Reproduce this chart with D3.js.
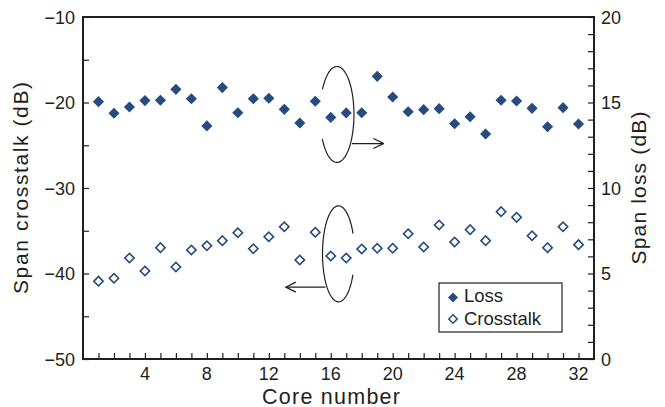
<!DOCTYPE html>
<html>
<head>
<meta charset="utf-8">
<script src="https://cdn.jsdelivr.net/npm/d3@7"></script>
<style>
  body { margin: 0; background: #fff; }
  svg text { font-family: "Liberation Sans", Arial, sans-serif; fill: #231f20; }
</style>
</head>
<body>
<svg id="chart"></svg>
<script>
// core numbers 1..32
const cores = [1, 2, 3, 4, 5, 6, 7, 8, 9, 10, 11, 12, 13, 14, 15, 16,
  17, 18, 19, 20, 21, 22, 23, 24, 25, 26, 27, 28, 29, 30, 31, 32]
// span loss (dB), right axis
const loss = [15.05, 14.37, 14.74, 15.11, 15.13, 15.77, 15.22, 13.63, 15.87, 14.40, 15.22, 15.25,
  14.60, 13.80, 15.07, 14.13, 14.39, 14.40, 16.53, 15.32, 14.46, 14.58, 14.64, 13.76,
  14.17, 13.16, 15.13, 15.09, 14.66, 13.58, 14.70, 13.74]
// span crosstalk (dB), left axis
const crosstalk = [-40.9, -40.56, -38.19, -39.71, -36.98, -39.24, -37.25, -36.75, -36.16, -35.23, -37.1, -35.7,
  -34.53, -38.42, -35.18, -37.95, -38.19, -37.13, -37.05, -37.05, -35.35, -36.9, -34.33, -36.32,
  -34.87, -36.16, -32.77, -33.43, -35.58, -36.98, -34.53, -36.63]
const xTickLabels = [4, 8, 12, 16, 20, 24, 28, 32]
const leftTickLabels = [-50, -40, -30, -20, -10]
const rightTickLabels = [0, 5, 10, 15, 20]

const width = 665
const height = 407
const margin = { top: 17, right: 71, bottom: 48, left: 83 }
const blue = '#274b7e'
const ink = '#231f20'

const svg = d3.select('#chart')
  .attr('width', width)
  .attr('height', height)

const x = d3.scaleLinear().domain([0, 33]).range([margin.left, width - margin.right])
const yL = d3.scaleLinear().domain([-50, -10]).range([height - margin.bottom, margin.top])
const yR = d3.scaleLinear().domain([0, 20]).range([height - margin.bottom, margin.top])

// frame
svg.append('rect')
  .attr('x', x(0)).attr('y', yL(-10))
  .attr('width', x(33) - x(0)).attr('height', yL(-50) - yL(-10))
  .attr('fill', 'none').attr('stroke', ink).attr('stroke-width', 2)

// bottom axis, inward ticks every core
const xAxis = svg.append('g')
  .attr('transform', `translate(0,${yL(-50)})`)
  .call(d3.axisBottom(x).tickValues(cores).tickSize(-6).tickFormat(''))
xAxis.select('.domain').remove()
xAxis.selectAll('line').attr('stroke', ink).attr('stroke-width', 1.2)
svg.append('g').selectAll('text')
  .data(xTickLabels).enter().append('text')
  .attr('x', d => x(d)).attr('y', yL(-50) + 21)
  .attr('text-anchor', 'middle').attr('font-size', 18)
  .text(d => d)

// left axis
const lAxis = svg.append('g')
  .attr('transform', `translate(${x(0)},0)`)
  .call(d3.axisLeft(yL).tickValues(d3.range(-50, -9, 5)).tickSize(-6).tickFormat(''))
lAxis.select('.domain').remove()
lAxis.selectAll('line').attr('stroke', ink).attr('stroke-width', 1.2)
svg.append('g').selectAll('text')
  .data(leftTickLabels).enter().append('text')
  .attr('x', x(0) - 8).attr('y', d => yL(d) + 6.5)
  .attr('text-anchor', 'end').attr('font-size', 18)
  .text(d => d < 0 ? '\u2212' + Math.abs(d) : d)

// right axis
const rAxis = svg.append('g')
  .attr('transform', `translate(${x(33)},0)`)
  .call(d3.axisRight(yR).tickValues(d3.range(0, 21, 1)).tickSize(-6).tickFormat(''))
rAxis.select('.domain').remove()
rAxis.selectAll('line').attr('stroke', ink).attr('stroke-width', 1.2)
svg.append('g').selectAll('text')
  .data(rightTickLabels).enter().append('text')
  .attr('x', x(33) + 7).attr('y', d => yR(d) + 6.5)
  .attr('text-anchor', 'start').attr('font-size', 18)
  .text(d => d)

// axis titles
const midY = (yL(-10) + yL(-50)) / 2
svg.append('text')
  .attr('transform', `translate(28,${midY}) rotate(-90)`)
  .attr('text-anchor', 'middle').attr('font-size', 21)
  .attr('textLength', 212).attr('lengthAdjust', 'spacing')
  .text('Span crosstalk (dB)')
svg.append('text')
  .attr('transform', `translate(646,${midY}) rotate(-90)`)
  .attr('text-anchor', 'middle').attr('font-size', 21)
  .attr('textLength', 153).attr('lengthAdjust', 'spacing')
  .text('Span loss (dB)')
svg.append('text')
  .attr('x', 331).attr('y', 403.5)
  .attr('text-anchor', 'middle').attr('font-size', 21.5)
  .attr('textLength', 138).attr('lengthAdjust', 'spacing')
  .text('Core number')

// markers
const diamond = d3.symbol().type(d3.symbolSquare)
svg.append('g').selectAll('path')
  .data(cores).enter().append('path')
  .attr('d', diamond.size(62)())
  .attr('transform', (d, i) => `translate(${x(d)},${yR(loss[i])}) rotate(45)`)
  .attr('fill', blue)
svg.append('g').selectAll('path')
  .data(cores).enter().append('path')
  .attr('d', diamond.size(44)())
  .attr('transform', (d, i) => `translate(${x(d)},${yL(crosstalk[i])}) rotate(45)`)
  .attr('fill', '#fff').attr('stroke', blue).attr('stroke-width', 1.6)

// annotations: open ellipses with arrows pointing to their axis
svg.append('defs').append('marker')
  .attr('id', 'arr').attr('viewBox', '0 0 12 12')
  .attr('refX', 11).attr('refY', 6)
  .attr('markerWidth', 12).attr('markerHeight', 12)
  .attr('markerUnits', 'userSpaceOnUse').attr('orient', 'auto')
  .append('path').attr('d', 'M1,1 L11,6 L1,11')
  .attr('fill', 'none').attr('stroke', ink).attr('stroke-width', 1.3)

function openEllipse (cx, cy, rx, ry, a0, a1) {
  const pts = d3.range(a0, a1 + 0.001, 0.05).map(a => [cx + rx * Math.cos(a), cy + ry * Math.sin(a)])
  return d3.line()(pts)
}
// upper: loss -> right axis (gap on left side)
const ucx = x(16.4), ucy = yR(14.3)
svg.append('path')
  .attr('d', openEllipse(ucx, ucy, 17, 48, -Math.PI + 0.55, Math.PI - 0.5))
  .attr('fill', 'none').attr('stroke', ink).attr('stroke-width', 1.2)
svg.append('line')
  .attr('x1', ucx + 15).attr('x2', x(19.4)).attr('y1', yR(12.6)).attr('y2', yR(12.6))
  .attr('stroke', ink).attr('stroke-width', 1.3).attr('marker-end', 'url(#arr)')
// lower: crosstalk -> left axis (gap on right side)
const lcx = x(16.5), lcy = yL(-37.7)
svg.append('path')
  .attr('d', openEllipse(lcx, lcy, 16, 48, 0.45, 2 * Math.PI - 0.4))
  .attr('fill', 'none').attr('stroke', ink).attr('stroke-width', 1.2)
svg.append('line')
  .attr('x1', lcx - 13).attr('x2', x(13.1)).attr('y1', yL(-41.6)).attr('y2', yL(-41.6))
  .attr('stroke', ink).attr('stroke-width', 1.3).attr('marker-end', 'url(#arr)')

// legend
const lg = svg.append('g').attr('transform', 'translate(439,283)')
lg.append('rect').attr('width', 123).attr('height', 49)
  .attr('fill', '#fff').attr('stroke', ink).attr('stroke-width', 1.2)
lg.append('path').attr('d', diamond.size(50)())
  .attr('transform', 'translate(14,14.5) rotate(45)').attr('fill', blue)
lg.append('path').attr('d', diamond.size(36)())
  .attr('transform', 'translate(14,36) rotate(45)')
  .attr('fill', '#fff').attr('stroke', blue).attr('stroke-width', 1.5)
lg.append('text').attr('x', 25).attr('y', 19).attr('font-size', 18.5).text('Loss')
lg.append('text').attr('x', 25).attr('y', 42).attr('font-size', 18.5).text('Crosstalk')
</script>
</body>
</html>
